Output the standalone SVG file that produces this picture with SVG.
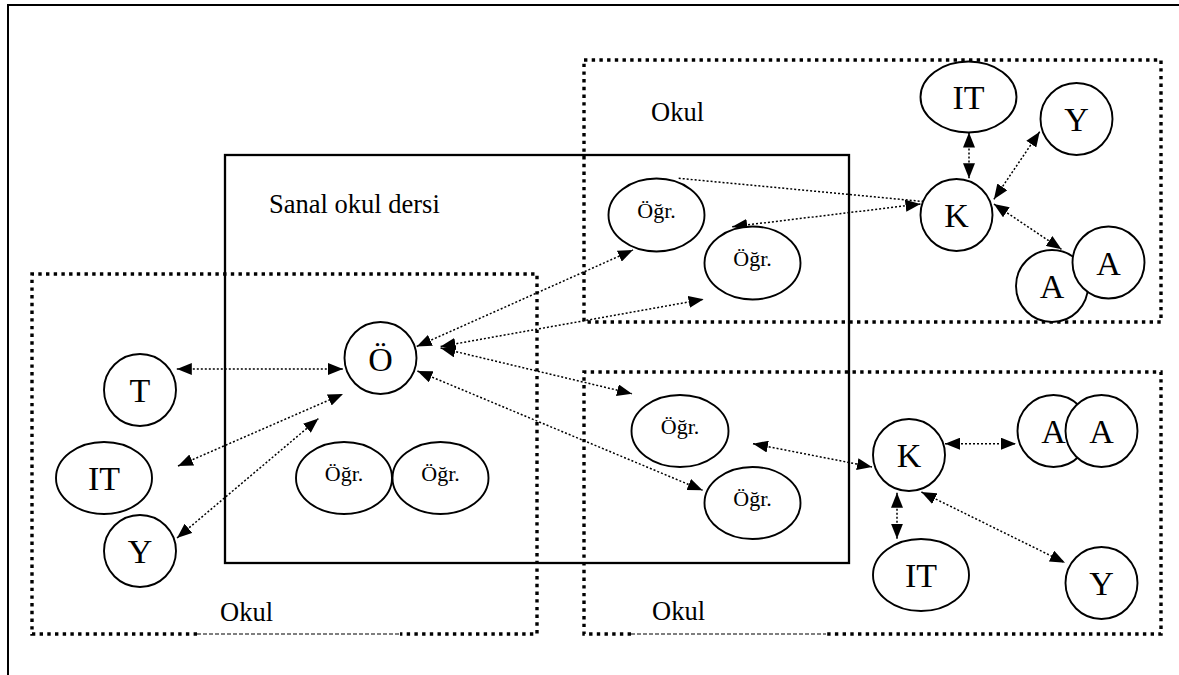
<svg xmlns="http://www.w3.org/2000/svg" width="1179" height="675" viewBox="0 0 1179 675">
<style>
.frame{fill:none;stroke:#000;stroke-width:2}
.box{fill:none;stroke:#000;stroke-width:3.4;stroke-dasharray:3.4 4.3}
.thin{fill:none;stroke:#000;stroke-width:1.2;stroke-dasharray:4 2}
.solid{fill:none;stroke:#000;stroke-width:2.3}
.node{fill:#fff;stroke:#000;stroke-width:1.9}
.big{font-family:"Liberation Serif","Times New Roman",serif;font-size:34px;text-anchor:middle;fill:#000}
.small{font-family:"Liberation Serif","Times New Roman",serif;font-size:22px;text-anchor:middle;fill:#000}
.lbl{font-family:"Liberation Serif","Times New Roman",serif;font-size:26.5px;fill:#000}
.con{fill:none;stroke:#000;stroke-width:1.5;stroke-dasharray:2 2}
.both{marker-start:url(#ah);marker-end:url(#ah)}
.end{marker-end:url(#ah)}
</style>
<defs>
<marker id="ah" viewBox="0 0 15 12" refX="15" refY="6" markerWidth="15" markerHeight="12" markerUnits="userSpaceOnUse" orient="auto-start-reverse"><path d="M0,0 L15,6 L0,12 z" fill="#000"/></marker>
</defs>
<rect width="1179" height="675" fill="#fff"/>
<g id="frame">
<path class="frame" d="M8,675 V5 H1179"/>
</g>
<g id="sanal-okul-dersi">
<rect class="solid" x="225" y="155" width="624" height="408"/>
<text class="lbl" x="269" y="213">Sanal okul dersi</text>
</g>
<g id="okul-top">
<path class="box" d="M584,60 H1161 V322 H584 Z"/>
<text class="lbl" x="651" y="121">Okul</text>
</g>
<g id="okul-left">
<path class="box" d="M197,634 H32 V274 H537 V634 H400"/>
<path class="thin" d="M197,634 H400"/>
<text class="lbl" x="220" y="621">Okul</text>
</g>
<g id="okul-bottom">
<path class="box" d="M631,634 H584 V372 H1161 V634 H826"/>
<path class="thin" d="M631,634 H826"/>
<text class="lbl" x="652" y="620">Okul</text>
</g>
<g id="connectors">
<line class="con both" x1="176.8" y1="369" x2="343" y2="369"/>
<line class="con both" x1="178" y1="466" x2="343" y2="394"/>
<line class="con both" x1="177" y1="538" x2="318.4" y2="418.6"/>
<line class="con both" x1="416.7" y1="346.5" x2="633" y2="250"/>
<line class="con both" x1="440.6" y1="346.5" x2="703.6" y2="299.3"/>
<line class="con both" x1="440.6" y1="348" x2="632" y2="393.7"/>
<line class="con both" x1="417.4" y1="371" x2="702.6" y2="490.3"/>
<line class="con end" x1="678.7" y1="178.3" x2="942.3" y2="203.3"/>
<line class="con both" x1="732.2" y1="226.7" x2="920.5" y2="204"/>
<line class="con both" x1="969" y1="132.5" x2="969" y2="178.3"/>
<line class="con both" x1="1039.7" y1="131.7" x2="993.9" y2="199.3"/>
<line class="con both" x1="993.9" y1="204" x2="1061.5" y2="249.3"/>
<line class="con both" x1="753" y1="443.7" x2="872" y2="467"/>
<line class="con both" x1="945" y1="443.7" x2="1016" y2="443.7"/>
<line class="con both" x1="897" y1="492.7" x2="897" y2="538.7"/>
<line class="con both" x1="921.4" y1="492" x2="1065" y2="562.7"/>
</g>
<g id="node-O"><circle class="node" cx="380.5" cy="358" r="36"/><text class="big" x="380.5" y="371">Ö</text></g>
<g id="node-T"><circle class="node" cx="140" cy="390" r="36"/><text class="big" x="140" y="402">T</text></g>
<g id="node-IT-left"><ellipse class="node" cx="104" cy="478" rx="48" ry="36"/><text class="big" x="104" y="490">IT</text></g>
<g id="node-Y-left"><circle class="node" cx="140" cy="551" r="36"/><text class="big" x="140" y="563">Y</text></g>
<g id="node-ogr-l1"><ellipse class="node" cx="344" cy="478" rx="48" ry="36"/><text class="small" x="344" y="481">Öğr.</text></g>
<g id="node-ogr-l2"><ellipse class="node" cx="440.5" cy="478" rx="48" ry="36"/><text class="small" x="440.5" y="481">Öğr.</text></g>
<g id="node-ogr-t1"><ellipse class="node" cx="656.5" cy="215" rx="48" ry="36.5"/><text class="small" x="656.5" y="218">Öğr.</text></g>
<g id="node-ogr-t2"><ellipse class="node" cx="752.5" cy="263" rx="48" ry="36.5"/><text class="small" x="752.5" y="266">Öğr.</text></g>
<g id="node-K-top"><circle class="node" cx="956.5" cy="215" r="36"/><text class="big" x="956.5" y="227">K</text></g>
<g id="node-IT-top"><ellipse class="node" cx="968.5" cy="97" rx="48" ry="35.5"/><text class="big" x="968.5" y="109">IT</text></g>
<g id="node-Y-top"><circle class="node" cx="1076.5" cy="119" r="36"/><text class="big" x="1076.5" y="131">Y</text></g>
<g id="node-A-top1"><circle class="node" cx="1052" cy="286" r="36"/><text class="big" x="1052" y="298">A</text></g>
<g id="node-A-top2"><circle class="node" cx="1108.5" cy="262.5" r="36"/><text class="big" x="1108.5" y="274.5">A</text></g>
<g id="node-ogr-b1"><ellipse class="node" cx="680" cy="431" rx="48.5" ry="36"/><text class="small" x="680" y="434">Öğr.</text></g>
<g id="node-ogr-b2"><ellipse class="node" cx="752.5" cy="503" rx="48" ry="36"/><text class="small" x="752.5" y="506">Öğr.</text></g>
<g id="node-K-bottom"><circle class="node" cx="909" cy="455" r="36"/><text class="big" x="909" y="467">K</text></g>
<g id="node-A-bottom1"><circle class="node" cx="1053.5" cy="431" r="36"/><text class="big" x="1053.5" y="443">A</text></g>
<g id="node-A-bottom2"><circle class="node" cx="1101.5" cy="431" r="36"/><text class="big" x="1101.5" y="443">A</text></g>
<g id="node-IT-bottom"><ellipse class="node" cx="921" cy="575" rx="48" ry="36"/><text class="big" x="921" y="587">IT</text></g>
<g id="node-Y-bottom"><circle class="node" cx="1101.5" cy="583" r="36"/><text class="big" x="1101.5" y="595">Y</text></g>
</svg>
